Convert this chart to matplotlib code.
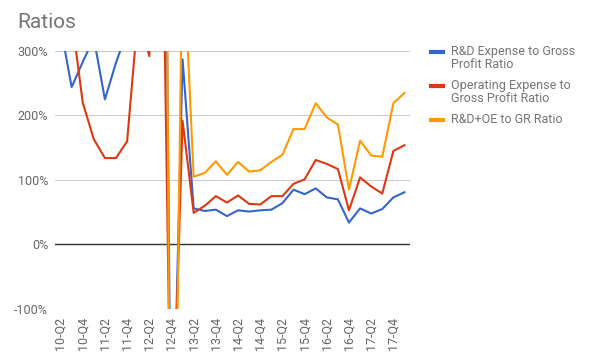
import matplotlib
matplotlib.use('Agg')
import matplotlib.pyplot as plt
from matplotlib.lines import Line2D

plt.rcParams['font.family'] = ['Roboto', 'DejaVu Sans']

quarters = ['10-Q2', '10-Q3', '10-Q4',
            '11-Q1', '11-Q2', '11-Q3', '11-Q4',
            '12-Q1', '12-Q2', '12-Q3', '12-Q4',
            '13-Q1', '13-Q2', '13-Q3', '13-Q4',
            '14-Q1', '14-Q2', '14-Q3', '14-Q4',
            '15-Q1', '15-Q2', '15-Q3', '15-Q4',
            '16-Q1', '16-Q2', '16-Q3', '16-Q4',
            '17-Q1', '17-Q2', '17-Q3', '17-Q4',
            '18-Q1']

# ratios in percent
rd_to_gp = [338, 244, 283, 320, 225, 282, 330, 420, 520, 1430, -420, 287,
            56, 52, 54, 44, 53, 51, 53, 54, 64, 85, 78, 87, 73, 70, 34,
            56, 48, 55, 73, 81]
opex_to_gp = [420, 353, 220, 163, 134, 134, 160, 360, 292, 760, -380, 192,
              49, 60, 75, 65, 76, 63, 62, 75, 75, 94, 101, 131, 125, 117, 53,
              104, 90, 79, 145, 154]
rd_oe_to_gr = [758, 597, 503, 483, 359, 416, 490, 780, 812, 2190, -800, 479,
               105, 111, 129, 108, 128, 113, 115, 128, 139, 179, 179, 219, 197, 186, 85,
               161, 138, 136, 219, 235]

series = [
    (rd_to_gp, '#3366cc', ['R&D Expense to Gross', 'Profit Ratio']),
    (opex_to_gp, '#dc3912', ['Operating Expense to', 'Gross Profit Ratio']),
    (rd_oe_to_gr, '#ff9900', ['R&D+OE to GR Ratio']),
]

W, H = 591, 360
fig = plt.figure(figsize=(W / 100, H / 100), dpi=100)
ax = fig.add_axes([55 / W, 1 - 309 / H, 355 / W, 258 / H])

x = list(range(len(quarters)))
for vals, col, _ in series:
    ax.plot(x, vals, color=col, lw=1.5)

ax.set_xlim(-0.5, len(quarters) - 0.5)
ax.set_ylim(-100, 300)
yt = [-100, 0, 100, 200, 300]
ax.set_yticks(yt)
ax.set_yticklabels([f'{v}%' for v in yt])
ax.set_xticks(x[::2])
ax.set_xticklabels(quarters[::2], rotation=90)

ax.grid(axis='y', color='#cccccc', lw=0.8)
ax.set_axisbelow(True)
ax.axhline(0, color='#333333', lw=1, zorder=1.5)
for s in ax.spines.values():
    s.set_visible(False)
ax.tick_params(axis='both', length=0, labelsize=9, labelcolor='#666666')
ax.tick_params(axis='y', pad=5)
ax.tick_params(axis='x', pad=6)

fig.text(17 / W, 1 - 22 / H, 'Ratios', fontsize=15, color='#757575', va='center')

# legend on the right
entry_y = [52, 86, 120]
for (vals, col, lines), y0 in zip(series, entry_y):
    fig.add_artist(Line2D([431 / W, 443 / W], [1 - y0 / H, 1 - y0 / H],
                          color=col, lw=3, transform=fig.transFigure))
    for k, txt in enumerate(lines):
        fig.text(451 / W, 1 - (y0 + 12 * k) / H, txt, fontsize=9,
                 color='#757575', va='center')

fig.savefig('out.png', dpi=100)
